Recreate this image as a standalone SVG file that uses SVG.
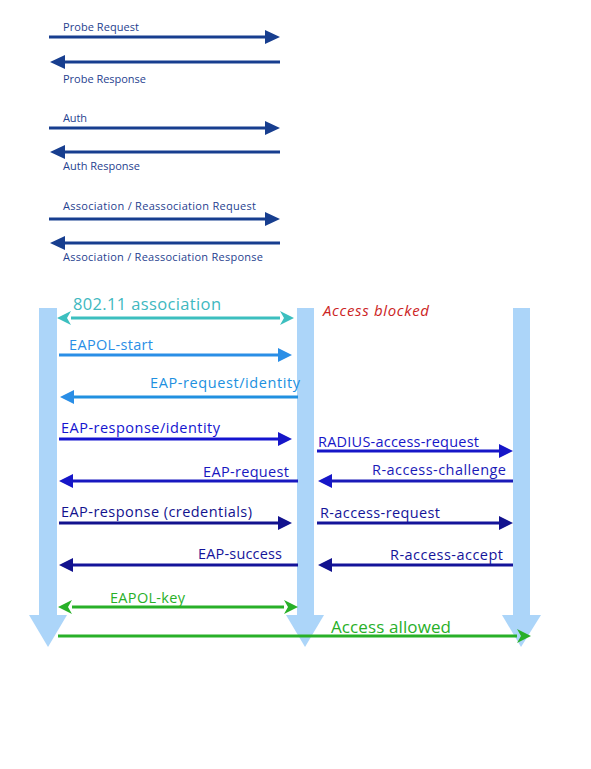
<svg xmlns="http://www.w3.org/2000/svg" width="591" height="769" viewBox="0 0 591 769">
<defs>
<style>
.t{font-family:"Open Sans","Liberation Sans",sans-serif}
.top{font-size:11px;fill:#1f3f8f}
.m{font-size:14.5px}
.ln{fill:none;stroke-width:3}
.life{fill:#acd5f9}
</style>
<marker id="ahTop" viewBox="0 0 15 14" refX="0" refY="7" markerWidth="15" markerHeight="14" markerUnits="userSpaceOnUse" orient="auto-start-reverse"><path d="M0,0 L15,7 L0,14 z" fill="#173e8f"/></marker>
<marker id="ahTeal" viewBox="0 0 14 14" refX="0" refY="7" markerWidth="14" markerHeight="14" markerUnits="userSpaceOnUse" orient="auto-start-reverse"><path d="M0,0 L14,7 L0,14 L4,7 z" fill="#3cbfbf"/></marker>
<marker id="ahB1" viewBox="0 0 14 14" refX="0" refY="7" markerWidth="14" markerHeight="14" markerUnits="userSpaceOnUse" orient="auto-start-reverse"><path d="M0,0 L14,7 L0,14 z" fill="#2a8ee6"/></marker>
<marker id="ahB2" viewBox="0 0 14 14" refX="0" refY="7" markerWidth="14" markerHeight="14" markerUnits="userSpaceOnUse" orient="auto-start-reverse"><path d="M0,0 L14,7 L0,14 z" fill="#1616c8"/></marker>
<marker id="ahB3" viewBox="0 0 14 14" refX="0" refY="7" markerWidth="14" markerHeight="14" markerUnits="userSpaceOnUse" orient="auto-start-reverse"><path d="M0,0 L14,7 L0,14 z" fill="#12128e"/></marker>
<marker id="ahG" viewBox="0 0 14 14" refX="0" refY="7" markerWidth="14" markerHeight="14" markerUnits="userSpaceOnUse" orient="auto-start-reverse"><path d="M0,0 L14,7 L0,14 L4,7 z" fill="#28b028"/></marker>
</defs>
<rect width="591" height="769" fill="#ffffff"/>

<g id="lifeline-client">
<rect class="life" x="39" y="308" width="18" height="308"/>
<polygon class="life" points="29,615 67,615 48,647"/>
</g>
<g id="lifeline-ap">
<rect class="life" x="297" y="308" width="17" height="308"/>
<polygon class="life" points="286,615 324,615 305,647"/>
</g>
<g id="lifeline-server">
<rect class="life" x="513" y="308" width="17" height="308"/>
<polygon class="life" points="502,615 541,615 521,647"/>
</g>

<g id="connectors">
<g stroke="#173e8f" class="ln">
<line x1="49" y1="37" x2="265" y2="37" marker-end="url(#ahTop)"/>
<line x1="280" y1="62" x2="65" y2="62" marker-end="url(#ahTop)"/>
<line x1="49" y1="128" x2="265" y2="128" marker-end="url(#ahTop)"/>
<line x1="280" y1="152" x2="65" y2="152" marker-end="url(#ahTop)"/>
<line x1="49" y1="219" x2="265" y2="219" marker-end="url(#ahTop)"/>
<line x1="280" y1="243" x2="65" y2="243" marker-end="url(#ahTop)"/>
</g>
<line class="ln" stroke="#3cbfbf" x1="71" y1="318" x2="280" y2="318" marker-start="url(#ahTeal)" marker-end="url(#ahTeal)"/>
<line class="ln" stroke="#2a8ee6" x1="59" y1="355" x2="278" y2="355" marker-end="url(#ahB1)"/>
<line class="ln" stroke="#2090e0" x1="298" y1="397" x2="74" y2="397" marker-end="url(#ahB1)"/>
<line class="ln" stroke="#1414d0" x1="59" y1="439" x2="278" y2="439" marker-end="url(#ahB2)"/>
<line class="ln" stroke="#1616c8" x1="317" y1="451" x2="499" y2="451" marker-end="url(#ahB2)"/>
<line class="ln" stroke="#1818c0" x1="298" y1="481" x2="73" y2="481" marker-end="url(#ahB2)"/>
<line class="ln" stroke="#1a1ab8" x1="513" y1="481" x2="332" y2="481" marker-end="url(#ahB2)"/>
<line class="ln" stroke="#12128e" x1="59" y1="523" x2="278" y2="523" marker-end="url(#ahB3)"/>
<line class="ln" stroke="#14149a" x1="317" y1="523" x2="499" y2="523" marker-end="url(#ahB3)"/>
<line class="ln" stroke="#14149a" x1="298" y1="565" x2="73" y2="565" marker-end="url(#ahB3)"/>
<line class="ln" stroke="#14149a" x1="513" y1="565" x2="332" y2="565" marker-end="url(#ahB3)"/>
<line class="ln" stroke="#28b028" x1="72" y1="607" x2="284" y2="607" marker-start="url(#ahG)" marker-end="url(#ahG)"/>
<line class="ln" stroke="#28b028" x1="58" y1="636" x2="517" y2="636" marker-end="url(#ahG)"/>
</g>

<g id="labels" class="t">
<text class="top" x="63" y="31" textLength="76">Probe Request</text>
<text class="top" x="63" y="83" textLength="83">Probe Response</text>
<text class="top" x="63" y="122" textLength="24">Auth</text>
<text class="top" x="63" y="170" textLength="77">Auth Response</text>
<text class="top" x="63" y="210" textLength="193">Association / Reassociation Request</text>
<text class="top" x="63" y="261" textLength="200">Association / Reassociation Response</text>

<text x="73" y="310" font-size="16.5" fill="#40b8c0" textLength="148">802.11 association</text>
<text x="323" y="316" font-size="15" font-style="italic" fill="#cc2424" textLength="106">Access blocked</text>
<text class="m" x="69" y="350" fill="#2a8ee6" textLength="84">EAPOL-start</text>
<text class="m" x="150" y="388" fill="#2090e0" textLength="150">EAP-request/identity</text>
<text class="m" x="61" y="433" fill="#1414d0" textLength="159">EAP-response/identity</text>
<text class="m" x="318" y="447" fill="#1616c8" textLength="161">RADIUS-access-request</text>
<text class="m" x="203" y="477" fill="#1818c0" textLength="86">EAP-request</text>
<text class="m" x="372" y="475" fill="#1a1ab8" textLength="134">R-access-challenge</text>
<text class="m" x="61" y="517" fill="#12128e" textLength="191">EAP-response (credentials)</text>
<text class="m" x="320" y="518" fill="#14149a" textLength="120">R-access-request</text>
<text class="m" x="198" y="559" fill="#14149a" textLength="84">EAP-success</text>
<text class="m" x="390" y="560" fill="#14149a" textLength="113">R-access-accept</text>
<text class="m" x="110" y="603" fill="#28b028" textLength="75">EAPOL-key</text>
<text x="331" y="633" font-size="17" fill="#28b028" textLength="120">Access allowed</text>
</g>
</svg>
